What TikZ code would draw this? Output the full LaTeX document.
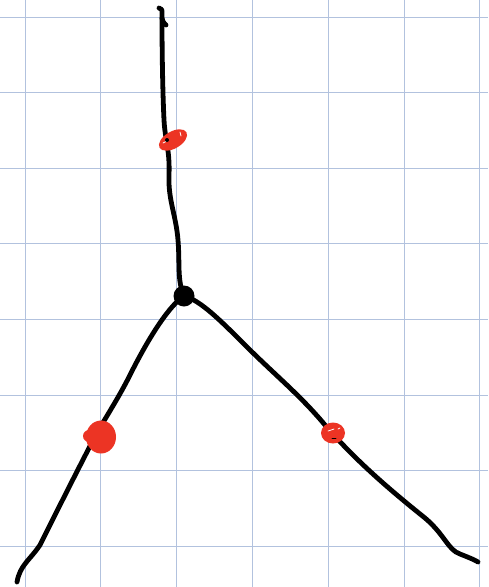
\documentclass[tikz,border=0pt]{standalone}
\begin{document}
\begin{tikzpicture}[x=1pt,y=-1pt,
  gridline/.style={draw=gridblue,line width=0.9pt},
  stroke/.style={line width=4.8pt,line cap=round,line join=round,black},
  mark red/.style={fill=markred,draw=none}]
\definecolor{gridblue}{RGB}{178,194,222}
\definecolor{markred}{RGB}{236,52,36}
\useasboundingbox (0,0) rectangle (488,587);
\fill[white] (0,0) rectangle (488,587);
% grid
\foreach \i in {0,...,6} { \draw[gridline] (25+75.8*\i,0) -- (25+75.8*\i,587); }
\foreach \j in {0,...,7} { \draw[gridline] (0,17+75.6*\j) -- (488,17+75.6*\j); }
\coordinate (J) at (184,296);
% top branch
\draw[stroke] (159,8) .. controls (162,9) .. (162,14) -- (162,18) .. controls (163,22) .. (166,25);
\draw[stroke] (162,18) .. controls (162,60) and (163,100) .. (164,120)
  .. controls (165,140) and (170,150) .. (169,175)
  .. controls (168,200) and (176,215) .. (178,240)
  .. controls (180,265) and (177,280) .. (J);
% left branch
\draw[stroke] (J) .. controls (170,305) and (150,335) .. (130,375)
  .. controls (115,405) and (100,425) .. (88,450)
  .. controls (70,485) and (55,515) .. (40,545)
  .. controls (30,560) and (20,565) .. (17,582);
% right branch
\draw[stroke] (J) .. controls (200,300) and (220,320) .. (245,345)
  .. controls (275,375) and (300,395) .. (325,425)
  .. controls (355,460) and (390,490) .. (425,518)
  .. controls (445,535) and (448,550) .. (460,554)
  .. controls (470,558) and (475,560) .. (478,562);
% junction dot
\fill (J) circle (10.5);
% red markers
\fill[mark red,rotate around={30:(173,140)}] (173,140) ellipse (15.5 and 8.5);
\draw[white,line width=0.8pt,line cap=round] (163,143) -- (167,141);
\draw[white,line width=0.8pt,line cap=round] (180,132) -- (181,136);
\fill[black] (167,140) circle (2);
\fill[mark red] (101,437) ellipse (15 and 16.5);
\fill[mark red] (89,436) circle (6);
\fill[mark red] (333,433) ellipse (12 and 10.5);
\draw[white,line width=0.8pt,line cap=round] (328,431) -- (334,429);
\draw[white,line width=0.8pt,line cap=round] (338,429) -- (340,428);
\draw[black,line width=0.8pt,line cap=round] (332,438) -- (336,438);
\end{tikzpicture}
\end{document}
